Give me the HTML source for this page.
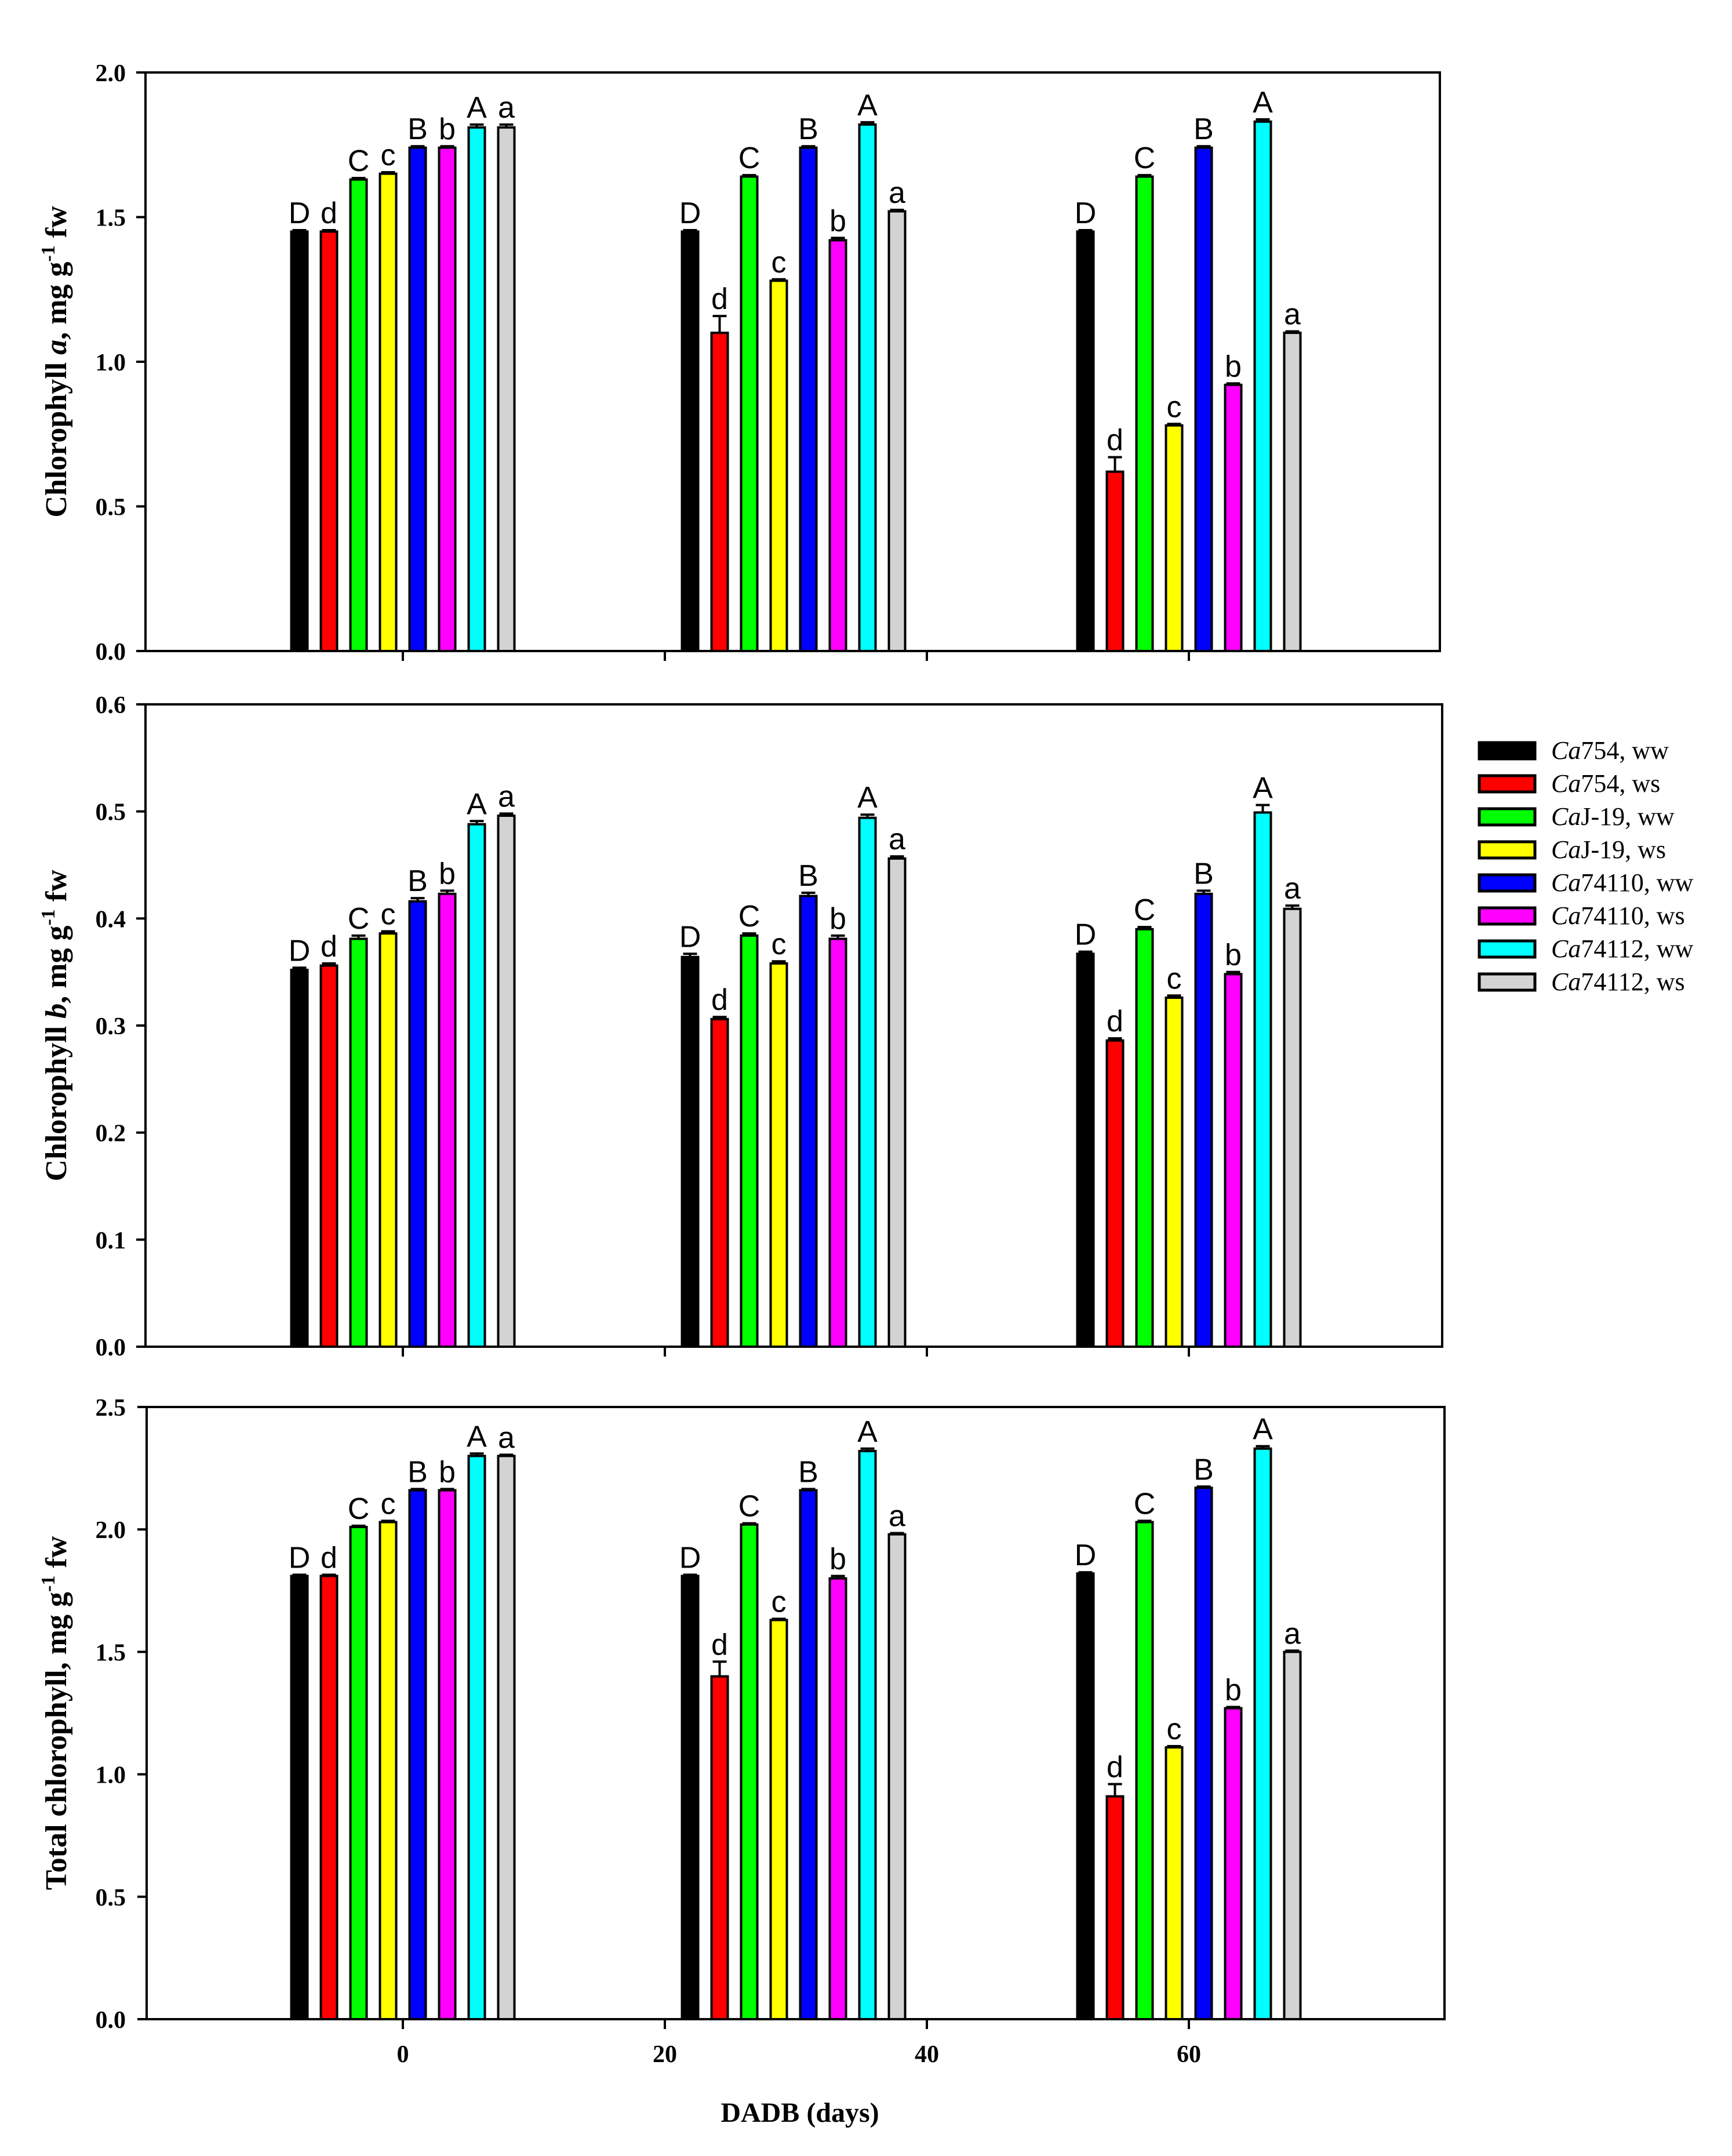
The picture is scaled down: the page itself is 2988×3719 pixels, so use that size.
<!DOCTYPE html>
<html><head><meta charset="utf-8"><style>
html,body{margin:0;padding:0;background:#fff;}
svg{display:block;}
text{font-family:"Liberation Serif",serif;}
</style></head><body>
<svg id="chart" width="2988" height="3719" viewBox="0 0 2988 3719" xmlns="http://www.w3.org/2000/svg">
<rect x="0" y="0" width="2988" height="3719" fill="#fff"/>
<g id="legend"></g>
<text x="1380" y="3660" text-anchor="middle" font-size="48" font-weight="bold">DADB (days)</text>
</svg>
<script>
const NS="http://www.w3.org/2000/svg";
const svg=document.getElementById('chart');
const groupDays=[0,30,60];
const seriesNames=["754, ww","754, ws","J-19, ww","J-19, ws","74110, ww","74110, ws","74112, ww","74112, ws"];
const seriesColors=["#000000","#ff0000","#00ff00","#ffff00","#0000ff","#ff00ff","#00ffff","#d3d3d3"];
const letters=["D","d","C","c","B","b","A","a"];
const xTicks=[0,20,40,60];
// panel 1: chlorophyll a
const chlA=[[1.45,1.45,1.63,1.65,1.74,1.74,1.81,1.81],[1.45,1.10,1.64,1.28,1.74,1.42,1.82,1.52],[1.45,0.62,1.64,0.78,1.74,0.92,1.83,1.10]];
const chlAErr=[[0.005,0.005,0.005,0.005,0.005,0.005,0.01,0.01],[0.005,0.058,0.005,0.005,0.005,0.008,0.008,0.005],[0.005,0.05,0.005,0.005,0.005,0.005,0.008,0.005]];
const chlATicks=[0,0.5,1.0,1.5,2.0];
// panel 2: chlorophyll b
const chlB=[[0.352,0.356,0.381,0.386,0.416,0.423,0.488,0.496],[0.364,0.306,0.384,0.358,0.421,0.381,0.494,0.456],[0.367,0.286,0.390,0.326,0.423,0.348,0.499,0.409]];
const chlBErr=[[0.002,0.002,0.003,0.002,0.003,0.003,0.003,0.002],[0.003,0.002,0.002,0.002,0.003,0.003,0.003,0.002],[0.002,0.002,0.002,0.002,0.003,0.002,0.007,0.003]];
const chlBTicks=[0,0.1,0.2,0.3,0.4,0.5,0.6];
// panel 3: total chlorophyll
const chlT=[[1.81,1.81,2.01,2.03,2.16,2.16,2.30,2.30],[1.81,1.40,2.02,1.63,2.16,1.80,2.32,1.98],[1.82,0.91,2.03,1.11,2.17,1.27,2.33,1.50]];
const chlTErr=[[0.005,0.005,0.005,0.005,0.005,0.005,0.01,0.005],[0.005,0.06,0.005,0.005,0.005,0.01,0.01,0.005],[0.005,0.05,0.005,0.005,0.005,0.005,0.01,0.005]];
const chlTTicks=[0,0.5,1.0,1.5,2.0,2.5];

function mk(tag,attrs,parent){const e=document.createElementNS(NS,tag);for(const k in attrs)e.setAttribute(k,attrs[k]);(parent||svg).appendChild(e);return e;}
function xScale(d){return 695+d*22.6;}

const panels=[
 {vals:chlA,errs:chlAErr,ticks:chlATicks,max:2.0,top:125,bottom:1123,left:251,right:2484,title:["Chlorophyll ","a",", mg g","-1"," fw"],name:"chlorophyll-a",showX:false},
 {vals:chlB,errs:chlBErr,ticks:chlBTicks,max:0.6,top:1215,bottom:2323,left:251,right:2488,title:["Chlorophyll ","b",", mg g","-1"," fw"],name:"chlorophyll-b",showX:false},
 {vals:chlT,errs:chlTErr,ticks:chlTTicks,max:2.5,top:2427,bottom:3483,left:253,right:2492,title:["Total chlorophyll",null,", mg g","-1"," fw"],name:"total-chlorophyll",showX:true}
];

panels.forEach((p,pi)=>{
  const g=mk('g',{});
  
  
  const y=v=>p.bottom-(v/p.max)*(p.bottom-p.top);
  groupDays.forEach((day,gi)=>{
    const cx=xScale(day)-(gi===1?4:0);
    p.vals[gi].forEach((v,si)=>{
      const bx=cx+(si-3.5)*51-14;
      const by=y(v);
      const r=mk('rect',{x:bx,y:by,width:28,height:p.bottom-by,fill:seriesColors[si],stroke:"#000","stroke-width":4},g);
      
      
      const ey=y(v+p.errs[gi][si]);
      const ep=mk('path',{d:`M${bx+14},${by} V${ey} M${bx+2},${ey} H${bx+26}`,stroke:"#000","stroke-width":4,fill:"none"},g);
      
      
      const t=mk('text',{x:bx+14,y:ey-12,"text-anchor":"middle","font-size":52,style:'font-family:"Liberation Sans",sans-serif'},g);
      
      
      t.textContent=letters[si];
    });
  });
  const fr=mk('rect',{x:p.left,y:p.top,width:p.right-p.left,height:p.bottom-p.top,fill:"none",stroke:"#000","stroke-width":4},g);
  
  
  p.ticks.forEach(tv=>{
    const ty=y(tv);
    mk('line',{x1:p.left-16,x2:p.left,y1:ty,y2:ty,stroke:"#000","stroke-width":4},g);
    const tl=mk('text',{x:217,y:ty+15,"text-anchor":"end","font-size":42,"font-weight":"bold"},g);
    
    
    tl.textContent=tv.toFixed(1);
  });
  xTicks.forEach(d=>{
    const tx=xScale(d);
    mk('line',{x1:tx,x2:tx,y1:p.bottom,y2:p.bottom+17,stroke:"#000","stroke-width":4},g);
    if(p.showX){
      const tl=mk('text',{x:tx,y:p.bottom+74,"text-anchor":"middle","font-size":42,"font-weight":"bold"},g);
      
      
      tl.textContent=String(d);
    }
  });
  const cy=(p.top+p.bottom)/2;
  const tt=mk('text',{transform:`translate(114,${cy}) rotate(-90)`,"text-anchor":"middle","font-size":52,"font-weight":"bold"},g);
  
  
  const parts=p.title;
  const s1=mk('tspan',{},tt);s1.textContent=parts[0];
  if(parts[1]){const s2=mk('tspan',{"font-style":"italic"},tt);s2.textContent=parts[1];}
  const s3=mk('tspan',{},tt);s3.textContent=parts[2];
  const s4=mk('tspan',{dy:-20,"font-size":34},tt);s4.textContent=parts[3];
  const s5=mk('tspan',{dy:20},tt);s5.textContent=parts[4];
});

const lg=document.getElementById('legend');
seriesNames.forEach((n,i)=>{
  const yy=1281+i*57;
  const r=mk('rect',{x:2552,y:yy,width:96,height:28,fill:seriesColors[i],stroke:"#000","stroke-width":5},lg);
  
  
  const t=mk('text',{x:2676,y:yy+28,"font-size":44},lg);
  
  
  const a=mk('tspan',{"font-style":"italic"},t);a.textContent="Ca";
  const b=mk('tspan',{},t);b.textContent=n;
});
</script>
</body></html>
